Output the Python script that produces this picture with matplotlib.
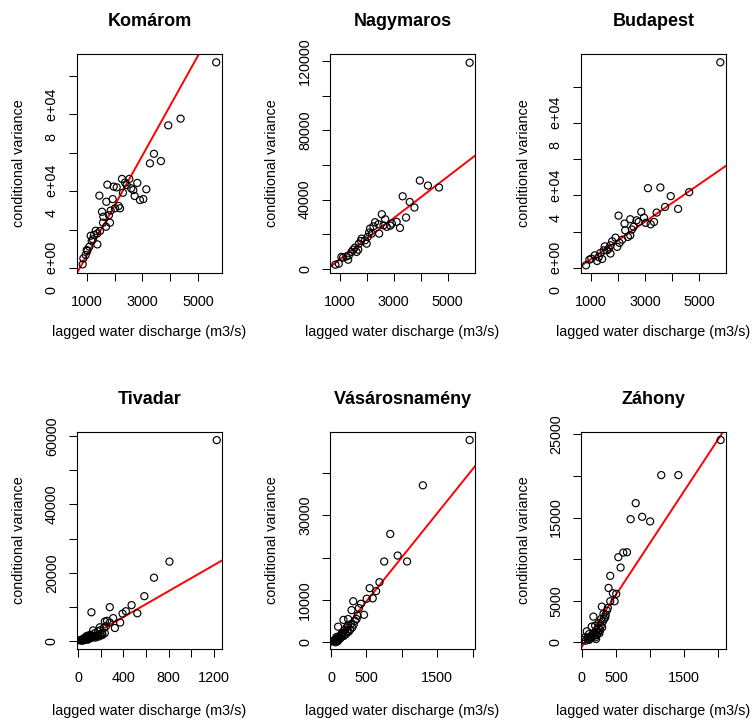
import numpy as np
import matplotlib
matplotlib.use('Agg')
import matplotlib.pyplot as plt

plt.rcParams['font.family'] = ['Liberation Sans', 'DejaVu Sans']

# station names
stations = ['Komárom', 'Nagymaros', 'Budapest', 'Tivadar', 'Vásárosnamény', 'Záhony']

# lagged discharge (x) and conditional variance (y)
komarom_x = [5659, 4377, 3934, 3419, 3275, 3671, 3144, 2820, 2533, 2269, 2437, 1743, 1970, 2078,
             2677, 2725, 2916, 3036, 2305, 1455, 1707, 1934, 2150, 1551, 1862, 1587, 1838, 1695,
             1479, 1323, 1144, 1263, 1383, 1180, 1096, 1024, 964, 880, 856, 1000, 1599, 2018,
             2198, 2600, 2380, 1800, 1380, 1220]
komarom_y = [107100, 77800, 74300, 59500, 54500, 55700, 41000, 44300, 46400, 46400, 43200, 43400,
             42400, 42000, 40600, 37500, 35400, 35900, 39200, 37700, 34500, 35900, 32300, 29300,
             29900, 23600, 23600, 21500, 19300, 19400, 16800, 17200, 12300, 14100, 11100, 8900,
             6800, 5000, 1900, 9400, 26700, 31100, 31100, 41500, 44500, 27500, 18000, 15000]

nagymaros_x = [5810, 3966, 4265, 4676, 3330, 3592, 3766, 3455, 3230, 3106, 2931, 2744, 2558, 2682,
               2869, 2433, 2308, 2246, 2458, 2121, 2084, 2034, 1810, 1785, 1710, 1685, 1561, 1498,
               1436, 1336, 1311, 1249, 1125, 1062, 963, 838, 1997, 2184, 2620, 1935, 1623]
nagymaros_y = [119200, 51000, 48100, 47000, 41900, 38600, 35400, 29600, 23600, 27100, 26100, 24200,
               31500, 28600, 24900, 25700, 26900, 24500, 20300, 23200, 20900, 18400, 17400, 16000,
               14500, 11000, 12200, 11000, 9700, 7700, 5200, 7100, 6400, 6800, 2900, 2300, 14500,
               20300, 25100, 16400, 9700]

budapest_x = [5778, 4630, 4222, 3951, 3741, 3568, 3111, 3432, 3333, 3210, 2963, 3025, 2864, 2691,
              2457, 2247, 2025, 2580, 2519, 2457, 2272, 2370, 2160, 2062, 1914, 1975, 1790, 1728,
              1667, 1728, 1519, 1481, 1358, 1296, 1420, 1235, 1148, 1025, 951, 827, 1605, 2765]
budapest_y = [113700, 41800, 32500, 39600, 33600, 44400, 44000, 30500, 25300, 24000, 27700, 24800,
              30900, 26200, 26800, 24400, 28800, 22600, 21100, 17900, 20700, 17000, 15500, 13700,
              16600, 11500, 14600, 12400, 10500, 7800, 11800, 9600, 8100, 5900, 4800, 3700, 6800,
              5000, 4400, 1300, 9600, 25300]

tivadar_x = [1227, 808, 671, 585, 472, 523, 422, 392, 371, 324, 279, 116, 309, 255, 235, 279, 226,
             190, 214, 175, 146, 131, 107, 86, 71, 56, 42, 27, 48, 65, 86, 101, 125, 160, 190, 235,
             12, 77, 146, 190, 244,
             30, 40, 55, 60, 70, 80, 90, 95, 110, 120, 130, 150, 170, 180, 200, 210]
tivadar_y = [58800, 23300, 18600, 13200, 10600, 8200, 8800, 8100, 5500, 3900, 10000, 8500, 6800,
             6000, 5800, 5500, 3900, 4100, 1900, 2900, 2400, 3200, 1900, 1700, 1500, 1000, 700, 500,
             300, 700, 900, 900, 1200, 1500, 1900, 2400, 300, 500, 1500, 3200, 4400,
             200, 400, 500, 900, 800, 1100, 600, 1300, 1000, 1700, 1400, 1100, 1800, 1400, 1700, 2400]

vasaros_x = [1957, 1297, 836, 941, 1074, 751, 684, 637, 546, 589, 504, 466, 423, 314, 290, 394, 375,
             337, 242, 280, 176, 219, 100, 195, 147, 124, 76, 52, 90, 109, 138, 171, 62, 90, 242, 361,
             40, 60, 80, 100, 110, 130, 150, 160, 180, 200, 210, 230, 250, 270, 300, 320]
vasaros_y = [47800, 37100, 25600, 20500, 19100, 19100, 14200, 12100, 12800, 10400, 10300, 6500, 9100,
             9700, 7600, 8100, 6300, 5100, 5500, 4300, 5300, 3500, 3700, 2900, 2000, 1200, 1200, 600,
             200, 700, 1600, 2200, 0, 1300, 3900, 5500,
             300, 500, 800, 400, 1000, 900, 1300, 1800, 1500, 2300, 1900, 2600, 2500, 3000, 3500, 4200]

zahony_x = [2034, 1415, 1165, 791, 717, 885, 1002, 663, 609, 536, 570, 418, 393, 457, 506, 482, 418,
            295, 383, 344, 285, 172, 246, 197, 147, 74, 221, 270, 108, 49, 88, 138, 187, 236, 211,
            25, 319, 369,
            60, 90, 110, 130, 150, 160, 180, 200, 220, 240, 250, 260, 280, 300, 310, 330, 350]
zahony_y = [24320, 20100, 20100, 16730, 14800, 15090, 14530, 10830, 10790, 10230, 8990, 7990, 6540,
            5900, 5820, 4940, 4940, 4290, 4130, 3010, 2810, 3090, 2290, 2010, 1890, 1320, 1480, 1480,
            1000, 600, 400, 600, 800, 1080, 400, 280, 3410, 3810,
            200, 600, 300, 500, 900, 700, 1100, 600, 900, 1300, 1700, 1100, 2000, 1800, 2500, 2800, 3300]

xs = [komarom_x, nagymaros_x, budapest_x, tivadar_x, vasaros_x, zahony_x]
ys = [komarom_y, nagymaros_y, budapest_y, tivadar_y, vasaros_y, zahony_y]

# fitted lines (intercept, slope)
intercepts = [-19500, -6700, -5740, -450, -740, -555]
slopes = [26.0, 12.0, 10.38, 18.9, 20.83, 12.49]

# axis ranges, ticks and labels
xlims = [(651, 5867), (639, 6009), (642, 5988), (-12, 1274), (-14, 2033), (-10, 2113)]
ylims = [(-2600, 111460), (-2500, 124250), (-2960, 118300), (-2230, 61170), (-1580, 49700), (-800, 25280)]
xticks = [[1000, 2000, 3000, 4000, 5000]] * 3 + [[0, 200, 400, 600, 800, 1000, 1200]] + \
         [[0, 500, 1000, 1500, 2000]] * 2
xticklabels = [['1000', '', '3000', '', '5000']] * 3 + [['0', '', '400', '', '800', '', '1200']] + \
              [['0', '500', '', '1500', '']] * 2
yticks = [[0, 20000, 40000, 60000, 80000, 100000],
          [0, 20000, 40000, 60000, 80000, 100000, 120000],
          [0, 20000, 40000, 60000, 80000, 100000],
          [0, 10000, 20000, 30000, 40000, 50000, 60000],
          [0, 10000, 20000, 30000, 40000],
          [0, 5000, 10000, 15000, 20000, 25000]]
yticklabels = [['0   e+00', '', '4   e+04', '', '8   e+04', ''],
               ['0', '', '40000', '', '80000', '', '120000'],
               ['0   e+00', '', '4   e+04', '', '8   e+04', ''],
               ['0', '', '20000', '', '40000', '', '60000'],
               ['0', '10000', '', '30000', ''],
               ['0', '5000', '', '15000', '', '25000']]

W, H = 753, 722
fig = plt.figure(figsize=(W / 100, H / 100), dpi=100)

lefts = [77, 330, 581]
rows = [(54, 273), (432, 649)]
box_w = 145
fs = 10.4

for i in range(6):
    r, c = divmod(i, 3)
    top, bot = rows[r]
    ax = fig.add_axes([lefts[c] / W, 1 - bot / H, box_w / W, (bot - top) / H])
    ax.scatter(xs[i], ys[i], s=26, facecolors='none', edgecolors='black', linewidths=0.85, zorder=3)
    ax.axline((0, intercepts[i]), slope=slopes[i], color='red', lw=1.4, zorder=2)
    ax.set_xlim(*xlims[i])
    ax.set_ylim(*ylims[i])
    ax.set_xticks(xticks[i], xticklabels[i])
    ax.set_yticks(yticks[i], yticklabels[i])
    ax.tick_params(direction='out', length=6, width=0.75, labelsize=fs, colors='black')
    ax.tick_params(axis='x', pad=9.5)
    ax.tick_params(axis='y', pad=12)
    plt.setp(ax.get_yticklabels(), rotation=90, va='center', ha='center')
    for sp in ax.spines.values():
        sp.set_linewidth(0.8)
    ax.set_title(stations[i], fontsize=13, fontweight='bold', pad=20.5)
    lab_base = 336 if r == 0 else 715
    ax.text(0.5, -(lab_base - bot) / (bot - top), 'lagged water discharge (m3/s)',
            transform=ax.transAxes, ha='center', va='baseline', fontsize=fs)
    fig.text((lefts[c] - 57.5) / W, 1 - (top + bot) / 2 / H, 'conditional variance',
             rotation=90, ha='center', va='center', fontsize=fs)

fig.savefig('out.png', dpi=100)
